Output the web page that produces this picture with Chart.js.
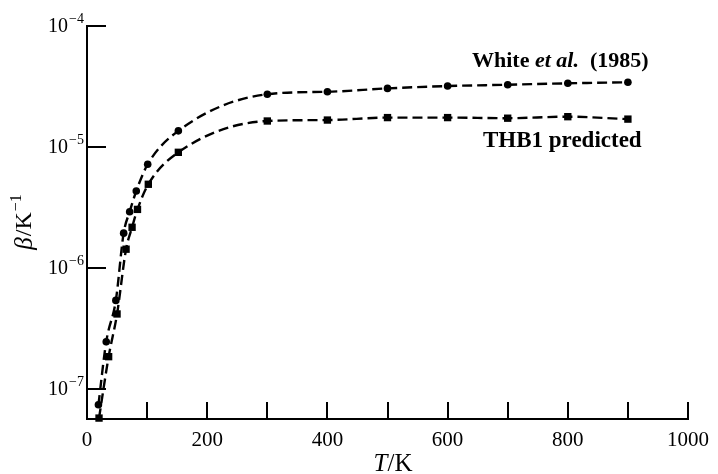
<!DOCTYPE html>
<html>
<head>
<meta charset="utf-8">
<script src="https://cdn.jsdelivr.net/npm/chart.js@4.4.1/dist/chart.umd.min.js"></script>
<style>
    html, body { margin: 0; padding: 0; background: #fff; }
</style>
</head>
<body>
<canvas id="betaChart" width="718" height="474"></canvas>
<script>
// values
const whiteT = [19, 32, 48, 61, 71, 82, 101, 152, 300, 400, 500, 600, 700, 800, 900];
const whiteBeta = [7.4e-8, 2.46e-7, 5.4e-7, 1.94e-6, 2.92e-6, 4.33e-6, 7.2e-6, 1.36e-5, 2.73e-5, 2.86e-5, 3.05e-5, 3.19e-5, 3.27e-5, 3.36e-5, 3.43e-5];
const thbT = [20, 36, 50, 65, 75, 84, 102, 152, 300, 400, 500, 600, 700, 800, 900];
const thbBeta = [5.75e-8, 1.85e-7, 4.17e-7, 1.43e-6, 2.17e-6, 3.05e-6, 4.92e-6, 9.04e-6, 1.64e-5, 1.67e-5, 1.75e-5, 1.75e-5, 1.73e-5, 1.78e-5, 1.70e-5];
const yDecades = [-7, -6, -5, -4];
const xTickStep = 100;

const SERIF = '"Liberation Serif", "DejaVu Serif", serif';
const INK = '#000';

function toPoints(xs, ys) {
    return xs.map((x, i) => ({ x: x, y: ys[i] }));
}

// ticks drawn inward, superscript labels and text notes
const decorPlugin = {
    id: 'decor',
    afterDraw(chart) {
        const ctx = chart.ctx;
        const area = chart.chartArea;
        const xs = chart.scales.x;
        const ys = chart.scales.y;
        ctx.save();
        ctx.strokeStyle = INK;
        ctx.fillStyle = INK;
        ctx.lineWidth = 2;

        // x ticks pointing up
        for (let v = xTickStep; v <= 1000; v += xTickStep) {
            const px = Math.round(xs.getPixelForValue(v));
            ctx.beginPath();
            ctx.moveTo(px, area.bottom);
            ctx.lineTo(px, area.bottom - 17);
            ctx.stroke();
        }

        // y ticks pointing right + labels
        yDecades.forEach(d => {
            const py = Math.round(ys.getPixelForValue(Math.pow(10, d)));
            ctx.beginPath();
            ctx.moveTo(area.left, py);
            ctx.lineTo(area.left + 19, py);
            ctx.stroke();

            ctx.font = '20px ' + SERIF;
            ctx.textAlign = 'right';
            ctx.textBaseline = 'middle';
            ctx.fillText('10', 68, py + 1);
            ctx.font = '14px ' + SERIF;
            ctx.textAlign = 'left';
            ctx.fillText('\u2212' + Math.abs(d), 69, py - 7);
        });

        // y title
        ctx.save();
        ctx.translate(25, 223);
        ctx.rotate(-Math.PI / 2);
        ctx.textBaseline = 'middle';
        ctx.textAlign = 'left';
        ctx.font = 'italic 25px ' + SERIF;
        const w1 = ctx.measureText('\u03b2').width;
        ctx.font = '24px ' + SERIF;
        const w2 = ctx.measureText('/K').width;
        ctx.font = '16px ' + SERIF;
        const w3 = ctx.measureText('\u22121').width;
        let cx = -(w1 + w2 + w3) / 2;
        ctx.font = 'italic 25px ' + SERIF;
        ctx.fillText('\u03b2', cx, 0);
        cx += w1 + 1;
        ctx.font = '24px ' + SERIF;
        ctx.fillText('/K', cx, 0);
        cx += w2 + 1;
        ctx.font = '16px ' + SERIF;
        ctx.fillText('\u22121', cx, -8);
        ctx.restore();

        // x title
        ctx.textBaseline = 'alphabetic';
        ctx.textAlign = 'left';
        ctx.font = 'italic 25px ' + SERIF;
        const tW = ctx.measureText('T').width;
        ctx.font = '25px ' + SERIF;
        const kW = ctx.measureText('/K').width;
        let tx = 393 - (tW + kW) / 2;
        ctx.font = 'italic 25px ' + SERIF;
        ctx.fillText('T', tx, 471);
        ctx.font = '25px ' + SERIF;
        ctx.fillText('/K', tx + tW, 471);

        // series notes
        let nx = 472;
        ctx.font = 'bold 22px ' + SERIF;
        ctx.fillText('White ', nx, 67);
        nx += ctx.measureText('White ').width;
        ctx.font = 'bold italic 22px ' + SERIF;
        ctx.fillText('et al.', nx, 67);
        nx += ctx.measureText('et al.  ').width;
        ctx.font = 'bold 22px ' + SERIF;
        ctx.fillText('(1985)', nx, 67);

        ctx.font = 'bold 23px ' + SERIF;
        ctx.fillText('THB1 predicted', 483, 147);
        ctx.restore();
    }
};

const ctx = document.getElementById('betaChart').getContext('2d');
new Chart(ctx, {
    type: 'line',
    data: {
        datasets: [{
            label: 'White et al. (1985)',
            data: toPoints(whiteT, whiteBeta),
            borderColor: INK,
            backgroundColor: INK,
            borderWidth: 2.4,
            borderDash: [10, 5],
            pointStyle: 'circle',
            pointRadius: 3.8,
            pointBorderWidth: 0,
            cubicInterpolationMode: 'monotone',
            clip: false
        },
        {
            label: 'THB1 predicted',
            data: toPoints(thbT, thbBeta),
            borderColor: INK,
            backgroundColor: INK,
            borderWidth: 2.4,
            borderDash: [10, 5],
            pointStyle: 'rect',
            pointRadius: 5.2,
            pointBorderWidth: 0,
            cubicInterpolationMode: 'monotone',
            clip: false
        }]
    },
    options: {
        responsive: false,
        animation: false,
        devicePixelRatio: 1,
        layout: { padding: { top: 26, right: 25, left: 0, bottom: 0 } },
        plugins: {
            legend: { display: false },
            tooltip: { enabled: false }
        },
        scales: {
            x: {
                type: 'linear',
                min: 0,
                max: 1000,
                grid: { display: false, drawTicks: false },
                border: { display: true, color: INK, width: 2 },
                ticks: {
                    stepSize: xTickStep,
                    autoSkip: false,
                    maxRotation: 0,
                    padding: 9,
                    color: INK,
                    font: { family: SERIF, size: 21 },
                    callback: v => (v % 200 === 0 ? v : '')
                },
                afterFit: s => { s.height = 55; }
            },
            y: {
                type: 'logarithmic',
                min: 5.65e-8,
                max: 1e-4,
                grid: { display: false, drawTicks: false },
                border: { display: true, color: INK, width: 2 },
                ticks: { display: false },
                afterBuildTicks: s => {
                    s.ticks = yDecades.map(d => ({ value: Math.pow(10, d) }));
                },
                afterFit: s => { s.width = 87; }
            }
        }
    },
    plugins: [decorPlugin]
});
</script>
</body>
</html>
